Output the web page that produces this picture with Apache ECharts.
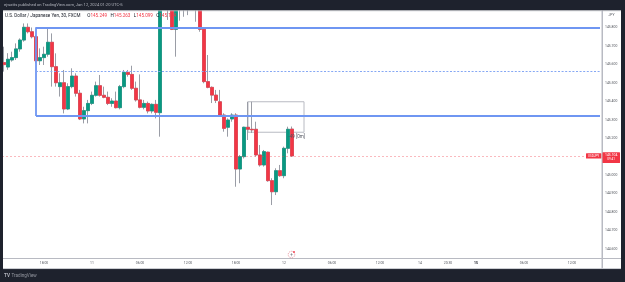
<!DOCTYPE html>
<html>
<head>
<meta charset="utf-8">
<script src="https://cdn.jsdelivr.net/npm/echarts@6/dist/echarts.min.js"></script>
<style>
  html, body { margin: 0; padding: 0; background: #1e222d; }
  #chart { width: 625px; height: 282px; }
</style>
</head>
<body>
<div id="chart"></div>
<script>
// USDJPY 30m, FXCM
let opens = [
  145.609, 145.585, 145.623, 145.636, 145.683, 145.731, 145.800, 145.776, 145.749, 145.619,
  145.636, 145.654, 145.719, 145.587, 145.479, 145.500, 145.358, 145.479, 145.536, 145.443,
  145.304, 145.349, 145.388, 145.432, 145.484, 145.432, 145.421, 145.388, 145.401, 145.365,
  145.479, 145.556, 145.545, 145.470, 145.407, 145.367, 145.388, 145.347, 145.383, 145.338,
  146.000, 145.980, 145.950, 145.789, 145.950, 146.000, 145.960, 145.930, 145.950, 145.920,
  145.789, 145.506, 145.475, 145.433, 145.397, 145.325, 145.259, 145.304, 145.325, 145.033,
  145.100, 145.259, 145.248, 145.248, 145.109, 145.055, 145.124, 144.970, 144.910, 145.024,
  144.997, 145.145, 145.249
]
let closes = [
  145.598, 145.627, 145.636, 145.683, 145.731, 145.800, 145.776, 145.749, 145.619, 145.636,
  145.654, 145.719, 145.587, 145.500, 145.500, 145.358, 145.479, 145.536, 145.443, 145.304,
  145.349, 145.388, 145.432, 145.484, 145.432, 145.421, 145.388, 145.401, 145.365, 145.479,
  145.556, 145.545, 145.470, 145.407, 145.367, 145.388, 145.347, 145.383, 145.340, 146.000,
  145.980, 145.950, 145.789, 145.950, 146.000, 145.960, 145.930, 145.950, 145.920, 145.789,
  145.506, 145.475, 145.433, 145.405, 145.325, 145.253, 145.298, 145.325, 145.033, 145.100,
  145.259, 145.248, 145.245, 145.109, 145.055, 145.127, 144.970, 144.910, 145.024, 144.997,
  145.145, 145.248, 145.104
]
let highs = [
  145.695, 145.660, 145.668, 145.713, 145.740, 145.821, 145.821, 145.799, 145.758, 145.686,
  145.695, 145.800, 145.767, 145.659, 145.551, 145.569, 145.497, 145.578, 145.551, 145.461,
  145.370, 145.407, 145.452, 145.506, 145.542, 145.479, 145.452, 145.416, 145.452, 145.488,
  145.569, 145.569, 145.592, 145.506, 145.545, 145.407, 145.398, 145.388, 145.407, 146.100,
  146.120, 146.050, 146.020, 145.980, 146.050, 146.080, 146.020, 145.990, 145.980, 145.950,
  145.795, 145.650, 145.480, 145.461, 145.461, 145.335, 145.307, 145.335, 145.335, 145.109,
  145.262, 145.397, 145.397, 145.289, 145.163, 145.136, 145.127, 144.983, 145.037, 145.055,
  145.154, 145.262, 145.263
]
let lows = [
  145.560, 145.570, 145.614, 145.623, 145.668, 145.722, 145.767, 145.740, 145.605, 145.596,
  145.596, 145.641, 145.479, 145.479, 145.425, 145.334, 145.352, 145.470, 145.425, 145.298,
  145.280, 145.280, 145.379, 145.425, 145.425, 145.416, 145.379, 145.370, 145.361, 145.356,
  145.470, 145.533, 145.461, 145.398, 145.361, 145.356, 145.334, 145.334, 145.307, 145.208,
  145.930, 145.840, 145.785, 145.641, 145.836, 145.857, 145.866, 145.900, 145.830, 145.776,
  145.497, 145.470, 145.390, 145.390, 145.316, 145.235, 145.208, 145.289, 144.937, 144.956,
  145.090, 145.190, 145.228, 145.100, 145.046, 145.046, 144.964, 144.838, 144.892, 144.991,
  144.983, 145.118, 145.099
]

// time axis labels
let tickTimes = ['01-10 18:00', '01-11 00:00', '01-11 06:00', '01-11 12:00', '01-11 18:00', '01-12 00:00',
  '01-12 06:00', '01-12 12:00', '01-14 17:00', '01-14 20:30', '01-15 00:00', '01-15 06:00', '01-15 12:00']
let tickLabels = ['18:00', '11', '06:00', '12:00', '18:00', '12', '06:00', '12:00', '14', '20:30', '{b|15}', '06:00', '12:00']

// drawings
let zoneTop = 145.80
let zoneBottom = 145.32
let zoneMid = 145.56
let lastPrice = 145.104
let boxTop = 145.397
let boxBottom = 145.232

// 30 minute bars, weekend gap from Fri 17:00 to Sun 17:00
function pad(n) { return (n < 10 ? '0' : '') + n }
let times = []
let d = new Date(Date.UTC(2024, 0, 10, 13, 0))
for (let k = 0; k < 150; k++) {
    times.push(pad(d.getUTCMonth() + 1) + '-' + pad(d.getUTCDate()) + ' ' + pad(d.getUTCHours()) + ':' + pad(d.getUTCMinutes()))
    d = new Date(d.getTime() + 30 * 60000)
    if (d.getUTCDate() === 12 && d.getUTCHours() === 17 && d.getUTCMinutes() === 0) {
        d = new Date(Date.UTC(2024, 0, 14, 17, 0))
    }
}

let wickData = opens.map((o, i) => [o, closes[i], lows[i], highs[i]])
let bodyData = opens.map((o, i) => [o, closes[i], Math.min(o, closes[i]), Math.max(o, closes[i])])

let green = '#089981'
let red = '#f23645'
let wick = '#9a9da6'
let blue = '#6f96f2'
let font = 'Roboto'
let axisText = '#55585f'
let zoneStart = times[8]
let zoneEnd = times[149]

let chart = echarts.init(document.getElementById('chart'))
chart.setOption({
    animation: false,
    backgroundColor: '#ffffff',
    grid: {left: 2, width: 600, top: 8.83, height: 258.65, outerBoundsMode: 'none'},
    xAxis: {
        type: 'category',
        data: times,
        boundaryGap: true,
        offset: -9,
        axisLine: {lineStyle: {color: '#b8bac2', width: 1}},
        axisTick: {show: false},
        splitLine: {show: false},
        axisLabel: {
            interval: (i, v) => tickTimes.includes(v),
            formatter: v => tickLabels[tickTimes.indexOf(v)],
            fontSize: 3.4,
            fontFamily: font,
            color: axisText,
            margin: 3.5,
            rich: {b: {fontSize: 3.4, fontWeight: 'bold', color: '#131722', fontFamily: font}}
        }
    },
    yAxis: {
        type: 'value',
        position: 'right',
        min: 144.5,
        max: 145.9,
        interval: 0.1,
        axisLine: {show: true, lineStyle: {color: '#b8bac2', width: 1}},
        axisTick: {show: false},
        splitLine: {show: false},
        axisLabel: {
            showMinLabel: false,
            showMaxLabel: false,
            formatter: v => v.toFixed(3),
            fontSize: 3.4,
            fontFamily: font,
            color: axisText,
            margin: 3
        }
    },
    series: [
        {
            // wicks (grey in the reference)
            type: 'candlestick',
            data: wickData,
            barWidth: 2.7,
            itemStyle: {color: wick, color0: wick, borderColor: wick, borderColor0: wick, borderWidth: 1}
        },
        {
            // bodies
            type: 'candlestick',
            data: bodyData,
            barWidth: 2.7,
            itemStyle: {color: green, color0: red, borderColor: green, borderColor0: red, borderWidth: 0.6},
            markArea: {
                silent: true,
                label: {show: false},
                data: [
                    [{xAxis: times[61], yAxis: boxTop, itemStyle: {color: 'rgba(0,0,0,0)', borderColor: '#b8bac2', borderWidth: 1}},
                     {xAxis: times[75], yAxis: boxBottom}]
                ]
            },
            markLine: {
                silent: true,
                symbol: ['none', 'none'],
                label: {show: false},
                data: [
                    // blue zone: top, bottom, left side (open to the right)
                    [{coord: [zoneStart, zoneTop], lineStyle: {color: blue, type: 'solid', width: 1.8}}, {coord: [zoneEnd, zoneTop]}],
                    [{coord: [zoneStart, zoneBottom], lineStyle: {color: blue, type: 'solid', width: 1.8}}, {coord: [zoneEnd, zoneBottom]}],
                    [{coord: [zoneStart, zoneTop], lineStyle: {color: blue, type: 'solid', width: 1.8}}, {coord: [zoneStart, zoneBottom]}],
                    [{coord: [zoneStart, zoneMid], lineStyle: {color: '#86a8f4', type: [2, 1.6], width: 1}}, {coord: [zoneEnd, zoneMid]}],
                    {yAxis: lastPrice, lineStyle: {color: 'rgba(242,54,69,0.35)', type: [2, 2], width: 1}}
                ]
            }
        }
    ]
})

let py = chart.convertToPixel({yAxisIndex: 0}, lastPrice)
let boxCorner = chart.convertToPixel({gridIndex: 0}, [times[75], boxBottom])

chart.setOption({
    graphic: [
        // frame
        {type: 'rect', z: 100, shape: {x: 0, y: 0, width: 625, height: 10.5}, style: {fill: '#1e222d'}},
        {type: 'rect', z: 100, shape: {x: 0, y: 0, width: 3, height: 282}, style: {fill: '#1e222d'}},
        {type: 'rect', z: 100, shape: {x: 621, y: 0, width: 4, height: 282}, style: {fill: '#1e222d'}},
        {type: 'rect', z: 100, shape: {x: 0, y: 269, width: 625, height: 13}, style: {fill: '#1e222d'}},
        {type: 'line', z: 101, shape: {x1: 3, y1: 10.8, x2: 621, y2: 10.8}, style: {stroke: '#c4c6cc', lineWidth: 0.8}},
        {type: 'line', z: 101, shape: {x1: 3, y1: 268.6, x2: 621, y2: 268.6}, style: {stroke: '#b8bac2', lineWidth: 0.8}},
        {type: 'line', z: 101, shape: {x1: 602, y1: 258.5, x2: 621, y2: 258.5}, style: {stroke: '#b8bac2', lineWidth: 1}},
        {type: 'line', z: 101, shape: {x1: 602, y1: 10.8, x2: 602, y2: 268.6}, style: {stroke: '#b8bac2', lineWidth: 1}},
        // header texts
        {type: 'text', z: 102, style: {x: 4, y: 5.3, text: 'ejwatts published on TradingView.com, Jan 12, 2024 01:20 UTC-5',
            fill: '#b2b5be', fontSize: 4.1, fontFamily: font, verticalAlign: 'middle'}},
        {type: 'text', z: 102, style: {x: 5, y: 15.5,
            text: '{n|U.S. Dollar / Japanese Yen, 30, FXCM}  {n|O}{v|145.249} {n|H}{v|145.263} {n|L}{v|145.099} {n|C}{v|145.104}',
            verticalAlign: 'middle',
            rich: {
                n: {fill: '#131722', fontSize: 4.6, fontFamily: font},
                v: {fill: red, fontSize: 4.6, fontFamily: font}
            }}},
        {type: 'text', z: 102, style: {x: 611.5, y: 15, text: 'JPY', fill: axisText, fontSize: 3.4, fontFamily: font, align: 'center', verticalAlign: 'middle'}},
        // price tags
        {type: 'rect', z: 102, shape: {x: 586, y: py - 2.7, width: 15.3, height: 5.4, r: 0.5}, style: {fill: red}},
        {type: 'text', z: 103, style: {x: 593.6, y: py, text: 'USDJPY', fill: '#ffffff', fontSize: 3, fontFamily: font, align: 'center', verticalAlign: 'middle'}},
        {type: 'rect', z: 102, shape: {x: 602.5, y: py - 3.6, width: 17.5, height: 10.6, r: 0.5}, style: {fill: red}},
        {type: 'text', z: 103, style: {x: 611.2, y: py - 0.8, text: '145.104', fill: '#ffffff', fontSize: 3.4, fontFamily: font, align: 'center', verticalAlign: 'middle'}},
        {type: 'text', z: 103, style: {x: 611.2, y: py + 3.8, text: '09:41', fill: '#ffffff', fontSize: 3.1, fontFamily: font, align: 'center', verticalAlign: 'middle'}},
        // measure label under the grey box
        {type: 'text', z: 102, style: {x: boxCorner[0] + 1, y: boxCorner[1] + 4.5, text: '-49 [0m]', fill: '#50535e', fontSize: 4.6, fontFamily: font, align: 'right', verticalAlign: 'middle'}},
        // little marker on the time axis
        {type: 'circle', z: 102, shape: {cx: 291.5, cy: 254.6, r: 3.3}, style: {fill: '#ffffff', stroke: '#e0707e', lineWidth: 0.7, lineDash: [1, 0.8]}},
        {type: 'text', z: 103, style: {x: 291.5, y: 254.7, text: '+', fill: '#6a6d78', fontSize: 4.5, fontFamily: font, align: 'center', verticalAlign: 'middle'}},
        {type: 'circle', z: 103, shape: {cx: 294, cy: 252, r: 0.9}, style: {fill: red}},
        // footer logo
        {type: 'text', z: 102, style: {x: 4, y: 275.5, text: 'TV', fill: '#b2b5be', fontSize: 4.6, fontWeight: 'bold', fontFamily: font, verticalAlign: 'middle'}},
        {type: 'text', z: 102, style: {x: 11.5, y: 275.5, text: 'TradingView', fill: '#9598a1', fontSize: 4.6, fontFamily: font, verticalAlign: 'middle'}}
    ]
})
</script>
</body>
</html>
